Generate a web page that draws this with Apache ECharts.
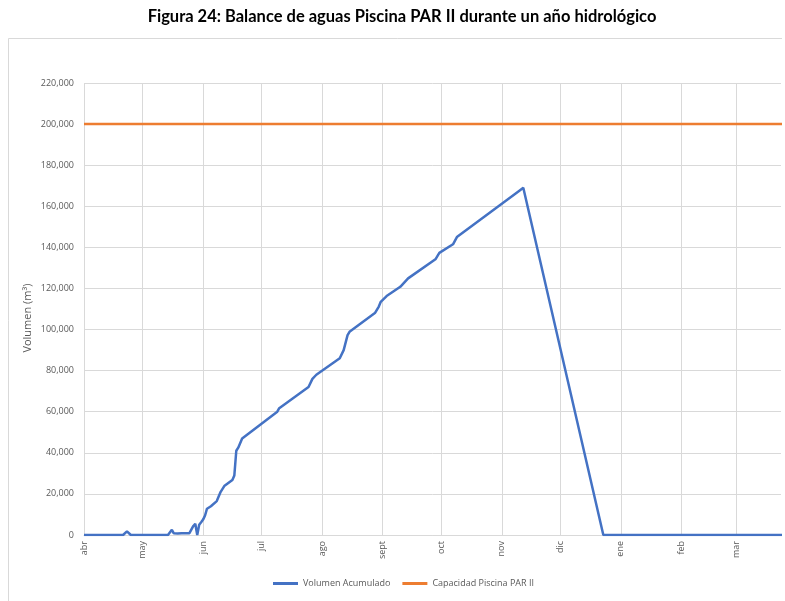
<!DOCTYPE html>
<html>
<head>
<meta charset="utf-8">
<script src="https://cdn.jsdelivr.net/npm/echarts@6/dist/echarts.min.js"></script>
<style>
html,body{margin:0;padding:0;background:#fff;}
#chart{width:785px;height:601px;}
</style>
</head>
<body>
<div id="chart"></div>
<script>
// ---- data ----
const titleText = 'Figura 24: Balance de aguas Piscina PAR II durante un año hidrológico';
const yAxisName = 'Volumen (m³)';
const monthNames = ['abr','may','jun','jul','ago','sept','oct','nov','dic','ene','feb','mar'];
const monthDays  = [30,31,30,31,31,30,31,30,31,31,28,31];
const seriesNames = ['Volumen Acumulado','Capacidad Piscina PAR II'];
// [day index from 1 abr, volume m3]
const volumenAcumulado = [
  [0,0],[20,0],[22,1800],[24,0],[43,0],[45,2500],[46,800],[47,1600],[48,700],
  [49,1200],[50,900],[51,1200],[52,800],[53,1100],[54,900],[55,1300],[56,4400],
  [57,5500],[58,0],[59,5000],[60,6200],[61,7500],[62,9500],[63,12800],[65,14000],
  [68,16500],[70,21000],[72,24000],[76,26800],[77,29000],[78,41000],[79,42500],
  [81,47000],[99,60000],[100,61700],[115,72000],[117,76000],[119,78000],[131,86000],
  [133,90000],[135,97300],[136,98900],[149,108000],[151,111200],[152,113500],
  [155,116300],[162,120800],[166,124900],[180,134200],[182,137300],[189,141500],
  [191,145000],[223,167600],[225,169000],[266,0],[364,0]
];
const capacidad = [[0,200000],[364,200000]];
const yMin = 0, yMax = 220000, yStep = 20000;
const lastVisibleDay = 357; // the original picture is cropped at its right edge

// ---- build categories (one per day) ----
const categories = [];
const monthStart = {};
let idx = 0;
monthNames.forEach((m, i) => {
  monthStart[idx] = m;
  for (let d = 1; d <= monthDays[i]; d++) { categories.push(d + ' ' + m); idx++; }
});

const chart = echarts.init(document.getElementById('chart'), null, {renderer:'canvas'});
const gray = '#595959';
const grid = '#d9d9d9';
chart.setOption({
  animation: false,
  backgroundColor: '#ffffff',
  graphic: [
    {type:'rect', z:-10, shape:{x:8.5, y:38.5, width:800, height:600},
     style:{fill:'#ffffff', stroke:'#d9d9d9', lineWidth:1}},
    {type:'text', z:10, x:402, y:17,
     style:{text:titleText, fill:'#000', font:'bold 16.5px Lato, "Liberation Sans", sans-serif',
            textAlign:'center', textVerticalAlign:'middle'}},
    {type:'text', z:10, x:28, y:318, rotation:Math.PI/2,
     style:{text:yAxisName, fill:gray, font:'11px "Open Sans", sans-serif',
            textAlign:'center', textVerticalAlign:'middle'}},
    {type:'rect', z:100, shape:{x:782, y:0, width:10, height:601}, style:{fill:'#ffffff'}}
  ],
  grid: {left:84, right:4, top:83, bottom:66, containLabel:false},
  legend: {
    left:268, top:574, itemWidth:25, itemHeight:3, itemGap:12, icon:'rect',
    textStyle:{color:gray, fontSize:9, fontFamily:'"Open Sans", sans-serif'},
    data: seriesNames
  },
  xAxis: {
    type:'category', data:categories, boundaryGap:false, min:0, max:lastVisibleDay,
    axisLine:{show:true, lineStyle:{color:grid}},
    axisTick:{show:false},
    axisLabel:{
      rotate:90, color:gray, fontSize:9, fontFamily:'"Open Sans", sans-serif', margin:6,
      interval:(i)=> monthStart[i] !== undefined,
      formatter:(v,i)=> monthStart[i] !== undefined ? monthStart[i] : ''
    },
    splitLine:{show:true, interval:(i)=> monthStart[i] !== undefined, lineStyle:{color:grid}}
  },
  yAxis: {
    type:'value', min:yMin, max:yMax, interval:yStep,
    axisLine:{show:false}, axisTick:{show:false},
    axisLabel:{color:gray, fontSize:9, fontFamily:'"Open Sans", sans-serif', margin:10,
      formatter:(v)=> v.toLocaleString('en-US')},
    splitLine:{lineStyle:{color:grid}}
  },
  series: [
    {name:seriesNames[0], type:'line', data:volumenAcumulado, symbol:'none', clip:true,
     lineStyle:{color:'#4472C4', width:2.5}, itemStyle:{color:'#4472C4'}, z:3},
    {name:seriesNames[1], type:'line', data:capacidad, symbol:'none', clip:true,
     lineStyle:{color:'#ED7D31', width:2.5}, itemStyle:{color:'#ED7D31'}, z:2}
  ]
});
</script>
</body>
</html>
